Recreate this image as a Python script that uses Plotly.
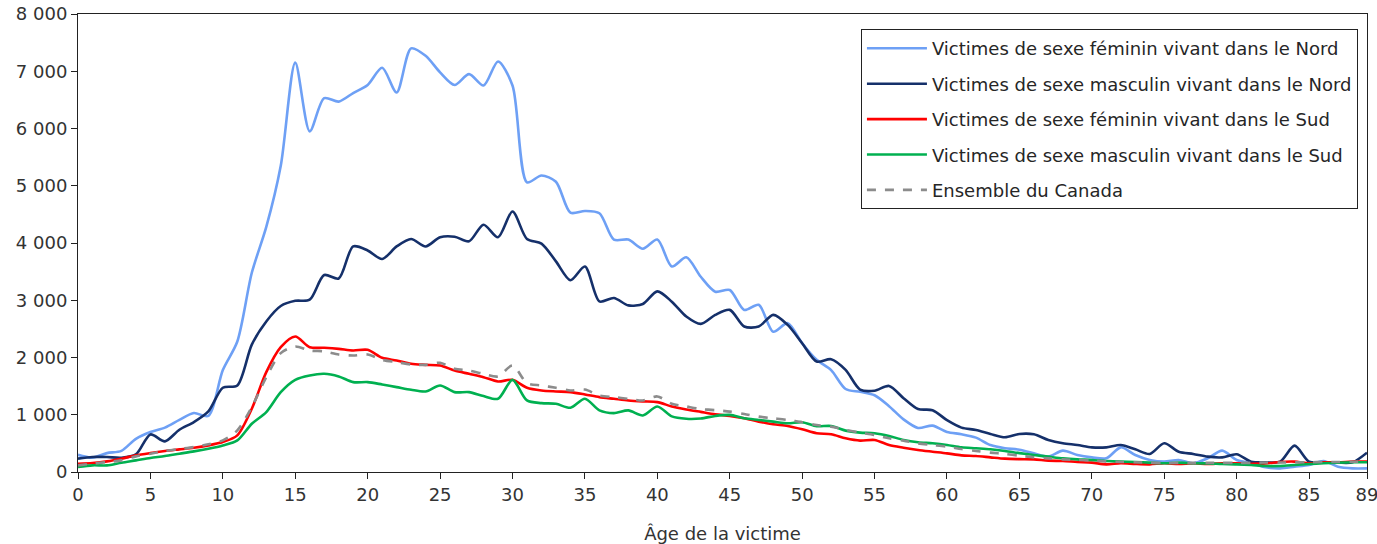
import plotly.graph_objects as go

ages = list(range(0, 90))

female_north = [300, 250, 330, 370, 580, 700, 775, 910, 1030, 980,
                1780, 2280, 3480, 4280, 5350, 7150, 5950, 6530, 6470, 6620,
                6760, 7060, 6630, 7400, 7270, 6980, 6760, 6950, 6750, 7170,
                6750, 5060, 5180, 5070, 4530, 4560, 4520, 4060, 4060, 3900,
                4060, 3590, 3750, 3410, 3150, 3180, 2830, 2920, 2450, 2600,
                2250, 1960, 1780, 1450, 1400, 1340, 1150, 920, 770, 810,
                700, 660, 600, 470, 415, 390, 326, 268, 373, 297,
                256, 239, 431, 297, 210, 181, 210, 152, 239, 373,
                210, 152, 82, 64, 93, 122, 192, 93, 64, 64]

male_north = [233, 262, 262, 250, 308, 657, 535, 738, 872, 1058,
              1471, 1512, 2225, 2630, 2900, 2990, 3010, 3440, 3380, 3940,
              3870, 3720, 3940, 4070, 3940, 4100, 4110, 4030, 4320, 4100,
              4550, 4070, 3990, 3680, 3350, 3590, 2980, 3040, 2910, 2935,
              3155, 2975, 2716, 2587, 2745, 2832, 2541, 2541, 2745, 2570,
              2250, 1929, 1970, 1783, 1440, 1420, 1503, 1290, 1100, 1080,
              905, 775, 734, 664, 606, 664, 658, 559, 501, 472,
              431, 431, 472, 396, 315, 501, 355, 315, 268, 256,
              309, 181, 169, 181, 460, 181, 169, 163, 169, 338]

female_south = [145, 157, 186, 233, 291, 331, 366, 395, 424, 465,
                523, 640, 1105, 1744, 2180, 2366, 2180, 2169, 2151, 2122,
                2134, 1994, 1948, 1890, 1872, 1860, 1773, 1715, 1657, 1581,
                1610, 1471, 1424, 1407, 1395, 1355, 1308, 1279, 1250, 1233,
                1221, 1145, 1093, 1050, 1008, 979, 938, 880, 833, 804,
                746, 676, 659, 589, 548, 560, 472, 425, 385, 355,
                326, 291, 280, 256, 233, 225, 221, 198, 192, 175,
                163, 134, 152, 140, 134, 152, 140, 152, 140, 152,
                150, 145, 150, 175, 181, 152, 170, 169, 181, 181]

male_south = [87, 116, 116, 163, 203, 244, 279, 320, 360, 407,
              465, 552, 843, 1047, 1395, 1610, 1686, 1715, 1669, 1570,
              1570, 1529, 1483, 1436, 1407, 1512, 1395, 1395, 1326, 1279,
              1610, 1250, 1203, 1192, 1122, 1279, 1076, 1029, 1076, 988,
              1145, 971, 930, 935, 979, 997, 938, 909, 880, 851,
              870, 800, 804, 723, 688, 676, 629, 560, 519, 501,
              472, 431, 414, 396, 367, 330, 297, 268, 239, 221,
              210, 192, 181, 175, 163, 152, 163, 152, 150, 140,
              134, 122, 105, 105, 122, 140, 152, 163, 169, 169]

canada = [116, 145, 174, 203, 273, 320, 366, 401, 436, 483,
          552, 727, 1134, 1657, 2076, 2192, 2122, 2105, 2052, 2035,
          2052, 1959, 1919, 1878, 1872, 1907, 1802, 1773, 1715, 1669,
          1860, 1552, 1512, 1471, 1424, 1440, 1337, 1308, 1279, 1250,
          1320, 1192, 1145, 1100, 1080, 1055, 1014, 967, 938, 909,
          868, 822, 793, 734, 688, 647, 589, 548, 501, 472,
          443, 402, 367, 338, 315, 285, 256, 239, 221, 210,
          198, 186, 175, 169, 163, 157, 160, 160, 160, 160,
          160, 160, 165, 165, 170, 170, 175, 175, 180, 181]

series_names = [
    "Victimes de sexe féminin vivant dans le Nord",
    "Victimes de sexe masculin vivant dans le Nord",
    "Victimes de sexe féminin vivant dans le Sud",
    "Victimes de sexe masculin vivant dans le Sud",
    "Ensemble du Canada",
]
series_values = [female_north, male_north, female_south, male_south, canada]
series_colors = ["#6EA0F5", "#15306A", "#FF0000", "#00B050", "#8C8C8C"]
series_dash = ["solid", "solid", "solid", "solid", "dash"]

x_tickvals = list(range(0, 90, 5)) + [89]
y_tickvals = list(range(0, 8001, 1000))
y_ticktext = ["0", "1 000", "2 000", "3 000", "4 000", "5 000", "6 000", "7 000", "8 000"]

FONT = "DejaVu Sans"
fig = go.Figure()
for i, (name, vals, col, dash) in enumerate(zip(series_names, series_values, series_colors, series_dash)):
    fig.add_trace(go.Scatter(
        x=ages, y=vals, mode="lines", name=name,
        line=dict(color=col, width=2.6, dash=dash, shape="spline", smoothing=0.8),
        legendgroup=f"g{i}",
    ))

fig.update_layout(
    width=1377, height=544,
    margin=dict(l=78, r=10, t=14, b=72, autoexpand=False),
    paper_bgcolor="white", plot_bgcolor="white",
    font=dict(family=FONT, size=18, color="#333333"),
    showlegend=True,
    legend=dict(
        x=0.6074, y=0.967, xanchor="left", yanchor="top",
        bgcolor="white", bordercolor="#222222", borderwidth=1,
        font=dict(family=FONT, size=18, color="#262626"),
        tracegroupgap=9, traceorder="grouped", itemwidth=60,
    ),
    xaxis=dict(
        range=[0, 89], tickmode="array", tickvals=x_tickvals,
        ticks="outside", ticklen=6, tickcolor="#222222",
        showline=True, linecolor="#222222", linewidth=1, mirror=True,
        showgrid=False, zeroline=False, automargin=False,
        ticklabeloverflow="allow",
        title=dict(text="Âge de la victime", standoff=32, font=dict(size=18)),
    ),
    yaxis=dict(
        range=[0, 8000], tickmode="array", tickvals=y_tickvals, ticktext=y_ticktext,
        ticks="outside", ticklen=6, tickcolor="#222222",
        showline=True, linecolor="#222222", linewidth=1, mirror=True,
        showgrid=False, zeroline=False, automargin=False,
        ticklabeloverflow="allow",
    ),
)

fig.write_html("out.html")
